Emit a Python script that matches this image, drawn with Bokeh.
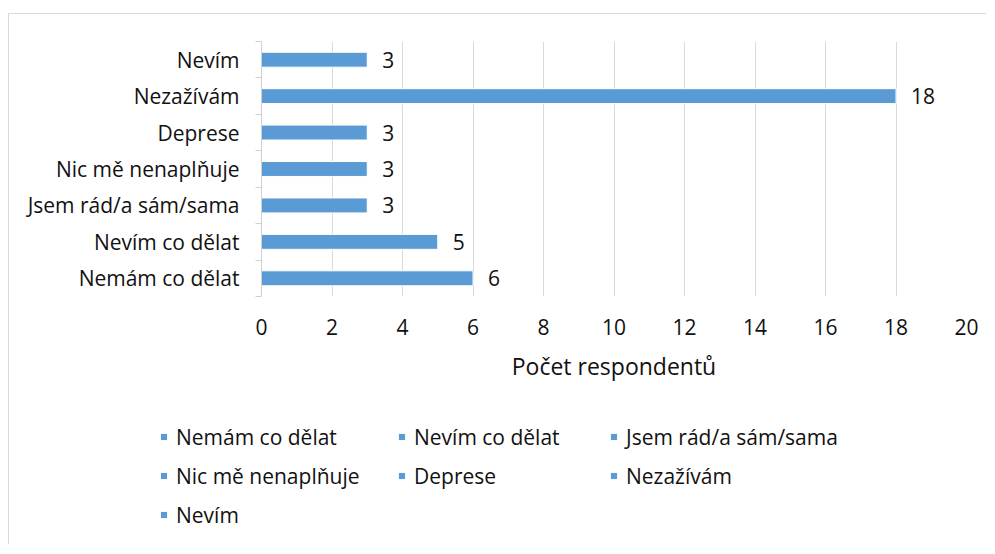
from bokeh.plotting import figure
from bokeh.layouts import column
from bokeh.models import ColumnDataSource, FixedTicker, Legend, LegendItem
from bokeh.core.properties import value
from bokeh.embed import file_html
from bokeh.resources import INLINE

# ---- data ----
categories = ["Nemám co dělat", "Nevím co dělat", "Jsem rád/a sám/sama",
              "Nic mě nenaplňuje", "Deprese", "Nezažívám", "Nevím"]
counts = [6, 5, 3, 3, 3, 18, 3]
x_ticks = [0, 2, 4, 6, 8, 10, 12, 14, 16, 18, 20]
x_title = "Počet respondentů"

FONT = "Open Sans"
BAR = "#5b9bd5"
TXT = "#111111"
GRID = "#d9d9d9"

pos = list(range(len(categories)))
src = ColumnDataSource(dict(y=pos, v=counts, lab=[str(c) for c in counts], cat=categories))

FW = 977
p = figure(output_backend="svg", toolbar_location=None,
           x_range=(0, 20), y_range=(-0.5, len(categories) - 0.5),
           frame_width=705, frame_height=255,
           min_border_left=252, min_border_right=FW - 252 - 705, min_border_top=27,
           min_border_bottom=100)
p.outline_line_color = None

r = p.hbar(y="y", right="v", left=0, height=0.41, source=src,
           fill_color=BAR, line_color="white", line_width=1)

p.text(x="v", y="y", text="lab", source=src, x_offset=15, text_baseline="middle",
       text_align="left", text_font=value(FONT), text_font_size="21px", text_color=TXT)

# x axis
xa = p.xaxis[0]
xa.ticker = FixedTicker(ticks=x_ticks)
xa.axis_line_color = None
xa.major_tick_line_color = None
xa.minor_tick_line_color = None
xa.major_label_text_font = FONT
xa.major_label_text_font_size = "21px"
xa.major_label_text_color = TXT
xa.major_label_standoff = 16
xa.axis_label = x_title
xa.axis_label_text_font = FONT
xa.axis_label_text_font_size = "23px"
xa.axis_label_text_font_style = "normal"
xa.axis_label_text_color = TXT
xa.axis_label_standoff = 12

# y axis
ya = p.yaxis[0]
ya.ticker = FixedTicker(ticks=pos, minor_ticks=[i - 0.5 for i in range(len(categories) + 1)])
ya.major_label_overrides = {i: c for i, c in enumerate(categories)}
ya.axis_line_color = "#d0d0d0"
ya.major_tick_line_color = None
ya.major_tick_out = 0
ya.major_tick_in = 0
ya.minor_tick_line_color = "#d0d0d0"
ya.minor_tick_out = 6
ya.minor_tick_in = 0
ya.major_label_text_font = FONT
ya.major_label_text_font_size = "21px"
ya.major_label_text_color = TXT
ya.major_label_standoff = 16

p.xgrid.grid_line_color = GRID
p.xgrid.ticker = FixedTicker(ticks=x_ticks)
p.ygrid.grid_line_color = None

# ---- legend strip below the chart ----
LH = 148
q = figure(output_backend="svg", toolbar_location=None, frame_width=FW, frame_height=LH,
           x_range=(0, 1), y_range=(0, 1), x_axis_location=None, y_axis_location=None,
           min_border=0)
q.outline_line_color = None
q.xgrid.grid_line_color = None
q.ygrid.grid_line_color = None
r2 = q.hbar(y="y", right="v", left=0, height=0.41, source=src,
            fill_color=BAR, line_color="white", line_width=1, visible=False)

col_x = [150, 388, 600]
top_y = LH - 26
ITEM_H = 29
SP = 10
for c in range(3):
    idx = list(range(c, len(categories), 3))
    items = [LegendItem(label=categories[i], renderers=[r2], index=i) for i in idx]
    n = len(idx)
    h = n * ITEM_H + (n - 1) * SP
    leg = Legend(items=items, orientation="vertical", location=(col_x[c], top_y - h),
                 border_line_color=None, background_fill_alpha=0,
                 label_text_font=FONT, label_text_font_size="21px", label_text_color=TXT,
                 glyph_width=9, glyph_height=9, label_standoff=8, label_height=ITEM_H,
                 spacing=SP, padding=0, margin=0)
    q.add_layout(leg, "center")

layout = column(p, q, spacing=0, margin=(13, 0, 0, 8),
                styles={"border-top": f"1px solid {GRID}", "border-left": f"1px solid {GRID}"})

open("out.html", "w").write(file_html(layout, INLINE))
